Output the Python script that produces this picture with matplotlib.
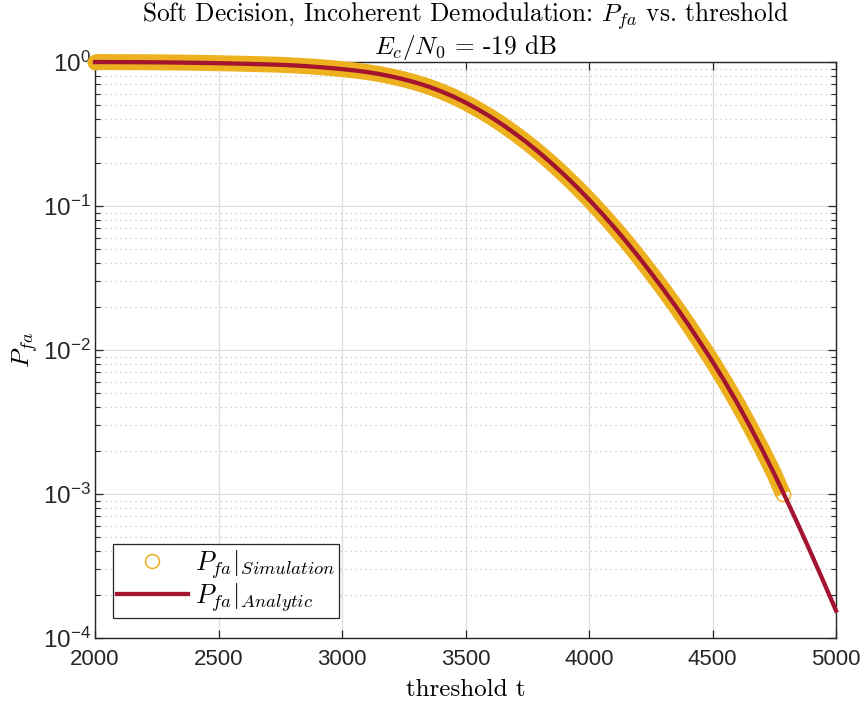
import numpy as np
import matplotlib
matplotlib.use("Agg")
import matplotlib.pyplot as plt
from matplotlib.lines import Line2D
from matplotlib.ticker import LogLocator, FuncFormatter, NullFormatter

plt.rcParams['font.family'] = ['Liberation Sans', 'DejaVu Sans']
plt.rcParams['mathtext.fontset'] = 'cm'

#datos: umbral vs probabilidad de falsa alarma
t_analytic = [2000, 2050, 2100, 2150, 2200, 2250, 2300, 2350, 2400, 2450,
              2500, 2550, 2600, 2650, 2700, 2750, 2800, 2850, 2900, 2950,
              3000, 3050, 3100, 3150, 3200, 3250, 3300, 3350, 3400, 3450,
              3500, 3550, 3600, 3650, 3700, 3750, 3800, 3850, 3900, 3950,
              4000, 4050, 4100, 4150, 4200, 4250, 4300, 4350, 4400, 4450,
              4500, 4550, 4600, 4650, 4700, 4750, 4800, 4850, 4900, 4950, 5000]
pfa_analytic = [0.9991, 0.9986, 0.9979, 0.9970, 0.9959, 0.9945, 0.9927, 0.9904, 0.9876, 0.9845,
                0.9808, 0.9768, 0.9723, 0.9674, 0.9620, 0.9561, 0.9474, 0.9365, 0.9237, 0.9090,
                0.8923, 0.8740, 0.8520, 0.8250, 0.7933, 0.7576, 0.7184, 0.6750, 0.6270, 0.5760,
                0.5230, 0.4692, 0.4173, 0.3668, 0.3187, 0.2745, 0.2336, 0.1970, 0.1643, 0.1357,
                0.1108, 0.0896, 0.0717, 0.0568, 0.0445, 0.0345, 0.0265, 0.0202, 0.0152, 0.01128,
                0.00831, 0.00602, 0.00428, 0.00299, 0.00205, 0.00138, 0.000911, 0.000595,
                0.000384, 0.000245, 0.000155]

t_sim = [2000, 2050, 2100, 2150, 2200, 2250, 2300, 2350, 2400, 2450,
         2500, 2550, 2600, 2650, 2700, 2750, 2800, 2850, 2900, 2950,
         3000, 3050, 3100, 3150, 3200, 3250, 3300, 3350, 3400, 3450,
         3500, 3550, 3600, 3650, 3700, 3750, 3800, 3850, 3900, 3950,
         4000, 4050, 4100, 4150, 4200, 4250, 4300, 4350, 4400, 4450,
         4500, 4550, 4600, 4650, 4700, 4750, 4785]
pfa_sim = [0.9991, 0.9986, 0.9979, 0.9970, 0.9959, 0.9945, 0.9927, 0.9904, 0.9876, 0.9845,
           0.9808, 0.9768, 0.9723, 0.9674, 0.9620, 0.9561, 0.9474, 0.9365, 0.9237, 0.9090,
           0.8923, 0.8740, 0.8520, 0.8250, 0.7933, 0.7576, 0.7184, 0.6750, 0.6270, 0.5760,
           0.5230, 0.4692, 0.4173, 0.3668, 0.3187, 0.2745, 0.2336, 0.1970, 0.1643, 0.1357,
           0.1108, 0.0896, 0.0717, 0.0568, 0.0445, 0.0345, 0.0265, 0.0202, 0.0152, 0.01128,
           0.00831, 0.00602, 0.00428, 0.00299, 0.00205, 0.00138, 0.00100]

amarillo = '#EDB120'
rojo = '#A2142F'
gris = '#262626'

fig = plt.figure(figsize=(8.64, 7.06), dpi=100)
ax = fig.add_axes([0.110, 0.0963, 0.8576, 0.8159])

#simulacion: banda de circulos densos
ax.plot(t_sim, pfa_sim, '-', color=amarillo, lw=11.5, solid_capstyle='butt',
        solid_joinstyle='round', clip_on=False, zorder=3)
ax.plot(t_sim[:1], pfa_sim[:1], 'o', color=amarillo, ms=11.5, mew=0, clip_on=False, zorder=3)
ax.plot(t_sim[-1:], pfa_sim[-1:], 'o', color=amarillo, mfc='none', ms=10.3, mew=1.1,
        clip_on=False, zorder=3)
#analitico
ax.plot(t_analytic, pfa_analytic, '-', color=rojo, lw=3.1, clip_on=False, zorder=4)

ax.set_yscale('log')
ax.set_xlim(2000, 5000)
ax.set_ylim(1e-4, 1e0)
ax.set_xticks([2000, 2500, 3000, 3500, 4000, 4500, 5000])
ax.yaxis.set_major_locator(LogLocator(base=10, numticks=10))
ax.yaxis.set_minor_locator(LogLocator(base=10, subs=np.arange(2, 10), numticks=20))
ax.yaxis.set_major_formatter(FuncFormatter(lambda v, p: r'$\mathregular{10^{%d}}$' % round(np.log10(v))))
ax.yaxis.set_minor_formatter(NullFormatter())

ax.tick_params(which='both', direction='in', top=True, right=True, colors=gris,
               labelsize=16, labelcolor=gris)
ax.tick_params(which='major', length=6, width=0.9)
ax.tick_params(axis='x', which='major', pad=8)
ax.tick_params(axis='y', which='major', pad=3, labelsize=17.5)
ax.tick_params(which='minor', length=3.5, width=0.8)
for s in ax.spines.values():
    s.set_color(gris)
    s.set_linewidth(1.0)

ax.grid(True, which='major', color='#dcdcdc', lw=0.9, ls='-')
ax.grid(True, which='minor', axis='y', color='#c4c4c4', lw=0.9, ls=(0, (1, 3)))
ax.set_axisbelow(True)

ax.set_title('Soft Decision, Incoherent Demodulation: $P_{fa}$ vs. threshold\n'
             '$E_c/N_0$ = -19 dB', fontfamily='cmr10', fontsize=18.3,
             color='black', pad=5, linespacing=1.05)
ax.set_xlabel('threshold t', fontfamily='cmr10', fontsize=18, labelpad=6)
ax.set_ylabel('$P_{fa}$', fontsize=18.5, labelpad=2)

h_sim = Line2D([], [], ls='none', marker='o', color=amarillo, mfc='none', ms=10, mew=1.1)
h_an = Line2D([], [], color=rojo, lw=3.1)
leg = ax.legend([h_sim, h_an], [r'$P_{fa}|_{Simulation}$', r'$P_{fa}|_{Analytic}$'],
                loc='lower left', bbox_to_anchor=(0.024, 0.035), fontsize=19,
                fancybox=False, framealpha=1, edgecolor=gris, handlelength=2.7,
                borderpad=0.15, labelspacing=0.0, handletextpad=0.25, borderaxespad=0)
leg.get_frame().set_linewidth(0.9)

fig.savefig('out.png', dpi=100)
